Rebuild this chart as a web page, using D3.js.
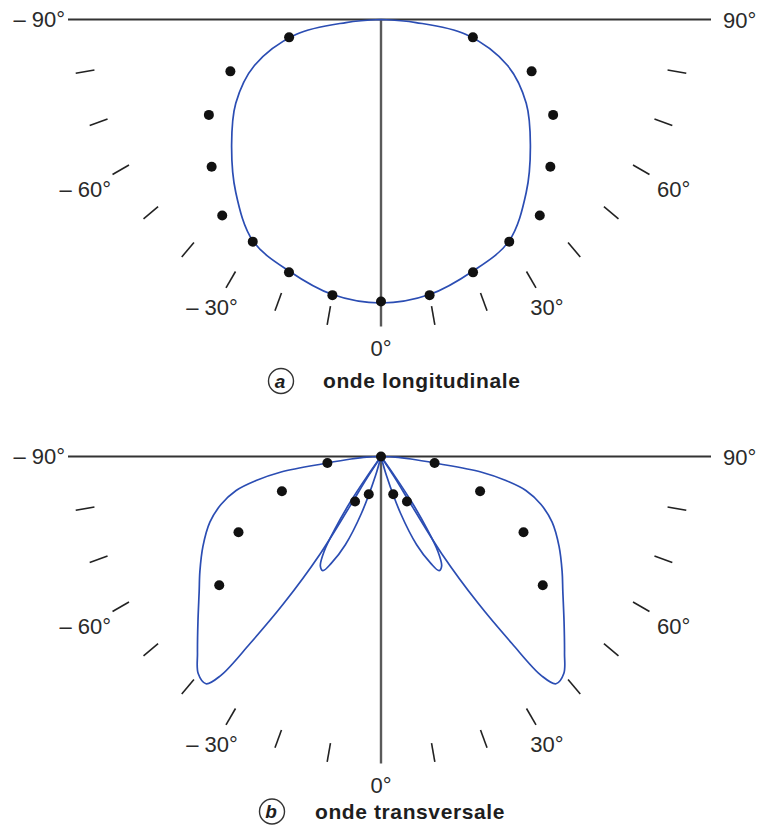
<!DOCTYPE html>
<html>
<head>
<meta charset="utf-8">
<script src="https://cdn.jsdelivr.net/npm/d3@7"></script>
<style>
  body { margin: 0; background: #fff; }
  svg { display: block; }
  .lbl { font-family: "Liberation Sans", Arial, sans-serif; font-size: 22px; fill: #2a2a2a; }
  .cap { font-family: "Liberation Sans", Arial, sans-serif; font-size: 21px; font-weight: bold; fill: #1e1e1e; letter-spacing: 0.6px; }
  .capLetter { font-family: "Liberation Sans", Arial, sans-serif; font-size: 19px; font-weight: bold; font-style: italic; fill: #1e1e1e; }
</style>
</head>
<body>
<svg id="chart" width="757" height="828"></svg>
<script>
// ---- angular grid (degrees from the downward axis, positive to the right) ----
const tickAngles = [-80, -70, -60, -50, -40, -30, -20, -10, 10, 20, 30, 40, 50, 60, 70, 80];
const labelAngles = [-60, -30, 0, 30, 60];
const labelTexts = ["\u2013 60°", "\u2013 30°", "0°", "30°", "60°"];
const sideLabels = ["\u2013 90°", "90°"];

// ---- (a) longitudinal wave: one half of the symmetric pattern ----
const longCurveAngles = [0, 10, 20, 30, 40, 50, 60, 70, 80, 85, 90];
const longCurveValues = [0.945, 0.931, 0.893, 0.853, 0.753, 0.65, 0.559, 0.449, 0.288, 0.117, 0];
const longDotAngles = [0, 10, 20, 30, 39, 49, 61, 71, 79];
const longDotValues = [0.94, 0.933, 0.897, 0.855, 0.841, 0.748, 0.656, 0.531, 0.312];

// ---- (b) transverse wave: main lobe and secondary lobe (right half) ----
const transMainAngles = [90, 87.5, 85.2, 83, 81.2, 79.1, 76.8, 73.3, 69, 63.2, 57.6, 53.4, 48, 43, 40.1, 37.6, 36.2, 35, 33.5, 32, 32, 33, 34];
const transMainValues = [0, 0.047, 0.1, 0.185, 0.337, 0.424, 0.496, 0.557, 0.611, 0.665, 0.715, 0.755, 0.821, 0.897, 0.946, 0.956, 0.905, 0.761, 0.588, 0.383, 0.2, 0.083, 0];
const transSideAngles = [15, 16, 19, 22, 25, 27, 29, 31, 32.5, 34, 35, 36];
const transSideValues = [0, 0.067, 0.2, 0.317, 0.393, 0.427, 0.417, 0.367, 0.283, 0.183, 0.083, 0];
const transDotAngles = [0, 18, 30, 51.5, 62, 70.7, 83];
const transDotValues = [0, 0.132, 0.173, 0.689, 0.538, 0.35, 0.18];

// ---- scales ----
const rScale = d3.scaleLinear().domain([0, 1]).range([0, 300]);
// d3 radial angle is clockwise from 12 o'clock; 0° here points straight down
const aScale = d3.scaleLinear().domain([0, 180]).range([Math.PI, 0]);

const svg = d3.select("#chart");
const BLUE = "#2b4db3";

function polar(theta, v) {
  const a = aScale(theta), r = rScale(v);
  return [r * Math.sin(a), -r * Math.cos(a)];
}

const radial = d3.lineRadial()
  .angle(d => aScale(d[0]))
  .radius(d => rScale(d[1]))
  .curve(d3.curveCatmullRom.alpha(0.5));

function zip(as, vs) { return as.map((a, i) => [a, vs[i]]); }
function mirror(pts) { return pts.map(([a, v]) => [-a, v]); }

function drawFrame(g, captionLetter, captionText, capPos) {
  // baseline and vertical axis
  g.append("line").attr("x1", -313).attr("x2", 330).attr("y1", 0).attr("y2", 0)
    .attr("stroke", "#333").attr("stroke-width", 2);
  g.append("line").attr("x1", 0).attr("x2", 0).attr("y1", 0).attr("y2", 307)
    .attr("stroke", "#5a5a5a").attr("stroke-width", 2.4);

  // radial tick marks
  g.selectAll("line.tick").data(tickAngles).join("line").attr("class", "tick")
    .each(function (t) {
      const p0 = polar(t, rScale.invert(291)), p1 = polar(t, rScale.invert(310));
      d3.select(this).attr("x1", p0[0]).attr("y1", p0[1]).attr("x2", p1[0]).attr("y2", p1[1]);
    })
    .attr("stroke", "#222").attr("stroke-width", 1.6);

  // angle labels
  g.selectAll("text.ang").data(labelAngles).join("text").attr("class", "lbl ang")
    .each(function (t, i) {
      const rr = t === 0 ? 328 : Math.abs(t) === 60 ? 338 : 332;
      const p = polar(t, rScale.invert(rr));
      d3.select(this).attr("x", p[0] + (t < 0 ? -3 : 0)).attr("y", p[1] + 8)
        .attr("text-anchor", "middle").text(labelTexts[i]);
    });
  g.append("text").attr("class", "lbl").attr("x", -316).attr("y", 7)
    .attr("text-anchor", "end").text(sideLabels[0]);
  g.append("text").attr("class", "lbl").attr("x", 342).attr("y", 8)
    .attr("text-anchor", "start").text(sideLabels[1]);

  // caption
  const c = g.append("g").attr("transform", `translate(${capPos[0]},${capPos[1]})`);
  c.append("circle").attr("r", 12.5).attr("fill", "none").attr("stroke", "#333").attr("stroke-width", 1.4);
  c.append("text").attr("class", "capLetter").attr("x", -1).attr("y", 6.5)
    .attr("text-anchor", "middle").text(captionLetter);
  c.append("text").attr("class", "cap").attr("x", capPos[2]).attr("y", 7).text(captionText);
}

function drawDots(g, pts) {
  g.selectAll("circle.dot").data(pts).join("circle").attr("class", "dot")
    .attr("cx", d => polar(d[0], d[1])[0])
    .attr("cy", d => polar(d[0], d[1])[1])
    .attr("r", 5).attr("fill", "#111");
}

// ---- panel (a) ----
const ga = svg.append("g").attr("transform", "translate(381,19.5)");
drawFrame(ga, "a", "onde longitudinale", [-100, 361.5, 42]);
const longHalf = zip(longCurveAngles, longCurveValues);
const longFull = mirror(longHalf).reverse().concat(longHalf.slice(1));
ga.append("path").attr("d", radial(longFull))
  .attr("fill", "none").attr("stroke", BLUE).attr("stroke-width", 1.7);
const longDots = zip(longDotAngles, longDotValues);
drawDots(ga, longDots.concat(mirror(longDots.filter(d => d[0] !== 0))));

// ---- panel (b) ----
const gb = svg.append("g").attr("transform", "translate(381,456.5)");
drawFrame(gb, "b", "onde transversale", [-109, 355, 43]);
const mainLobe = zip(transMainAngles, transMainValues);
const sideLobe = zip(transSideAngles, transSideValues);
[mainLobe, mirror(mainLobe), sideLobe, mirror(sideLobe)].forEach(pts => {
  gb.append("path").attr("d", radial(pts))
    .attr("fill", "none").attr("stroke", BLUE).attr("stroke-width", 1.7);
});
const transDots = zip(transDotAngles, transDotValues);
drawDots(gb, transDots.concat(mirror(transDots.filter(d => d[0] !== 0))));
</script>
</body>
</html>
